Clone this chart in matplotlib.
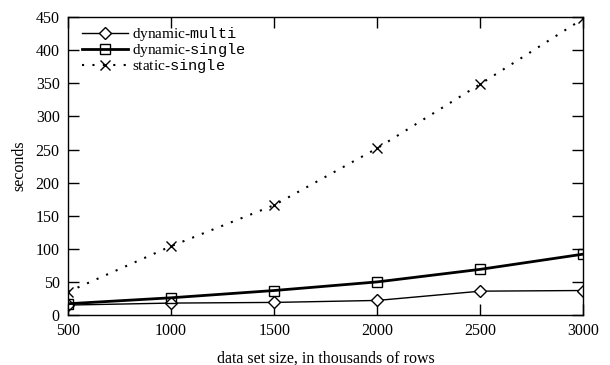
import matplotlib as mpl
import matplotlib.pyplot as plt

mpl.rcParams['font.family'] = ['Liberation Serif', 'DejaVu Serif']
mpl.rcParams['mathtext.fontset'] = 'custom'
mpl.rcParams['mathtext.tt'] = 'Liberation Mono'
mpl.rcParams['mathtext.rm'] = 'Liberation Serif'

# data set size in thousands of rows
rows = [500, 1000, 1500, 2000, 2500, 3000]
dynamic_multi = [15, 18, 19, 22, 36, 37]
dynamic_single = [17, 26, 37, 50, 69, 92]
static_single = [35, 104, 166, 252, 349, 448]

fig = plt.figure(figsize=(6.1, 3.65), dpi=100)
ax = fig.add_axes([0.1115, 0.137, 0.845, 0.816])

ax.plot(rows, dynamic_multi, color='black', lw=1.0, marker='D', ms=6.5,
        mfc='white', mec='black', mew=1.0, label=r'dynamic-$\mathtt{multi}$')
ax.plot(rows, dynamic_single, color='black', lw=2.0, marker='s', ms=7.5,
        mfc='none', mec='black', mew=1.0, label=r'dynamic-$\mathtt{single}$')
ax.plot(rows, static_single, color='black', lw=1.5, ls=(0, (1, 4)), marker='x',
        ms=7, mec='black', mew=1.0, label=r'static-$\mathtt{single}$')

ax.set_xlim(500, 3000)
ax.set_ylim(0, 450)
ax.set_xticks(rows)
ax.set_yticks(range(0, 451, 50))
ax.tick_params(direction='in', length=8, width=1, top=True, right=True,
               labelsize=11.5, pad=6)
for s in ax.spines.values():
    s.set_linewidth(1.0)

ax.set_xlabel('data set size, in thousands of rows', fontsize=11.5, labelpad=8)
ax.set_ylabel('seconds', fontsize=11.5, labelpad=6)

# tight rows as in the original; text boxes touch but glyphs don't
ax.legend(loc='upper left', bbox_to_anchor=(0.012, 1.0), frameon=False,
          fontsize=11, handlelength=3.0, handleheight=0.5, handletextpad=0.3,
          labelspacing=-0.12, borderaxespad=0.2, borderpad=0.3)

fig.savefig('out.png', dpi=100)
